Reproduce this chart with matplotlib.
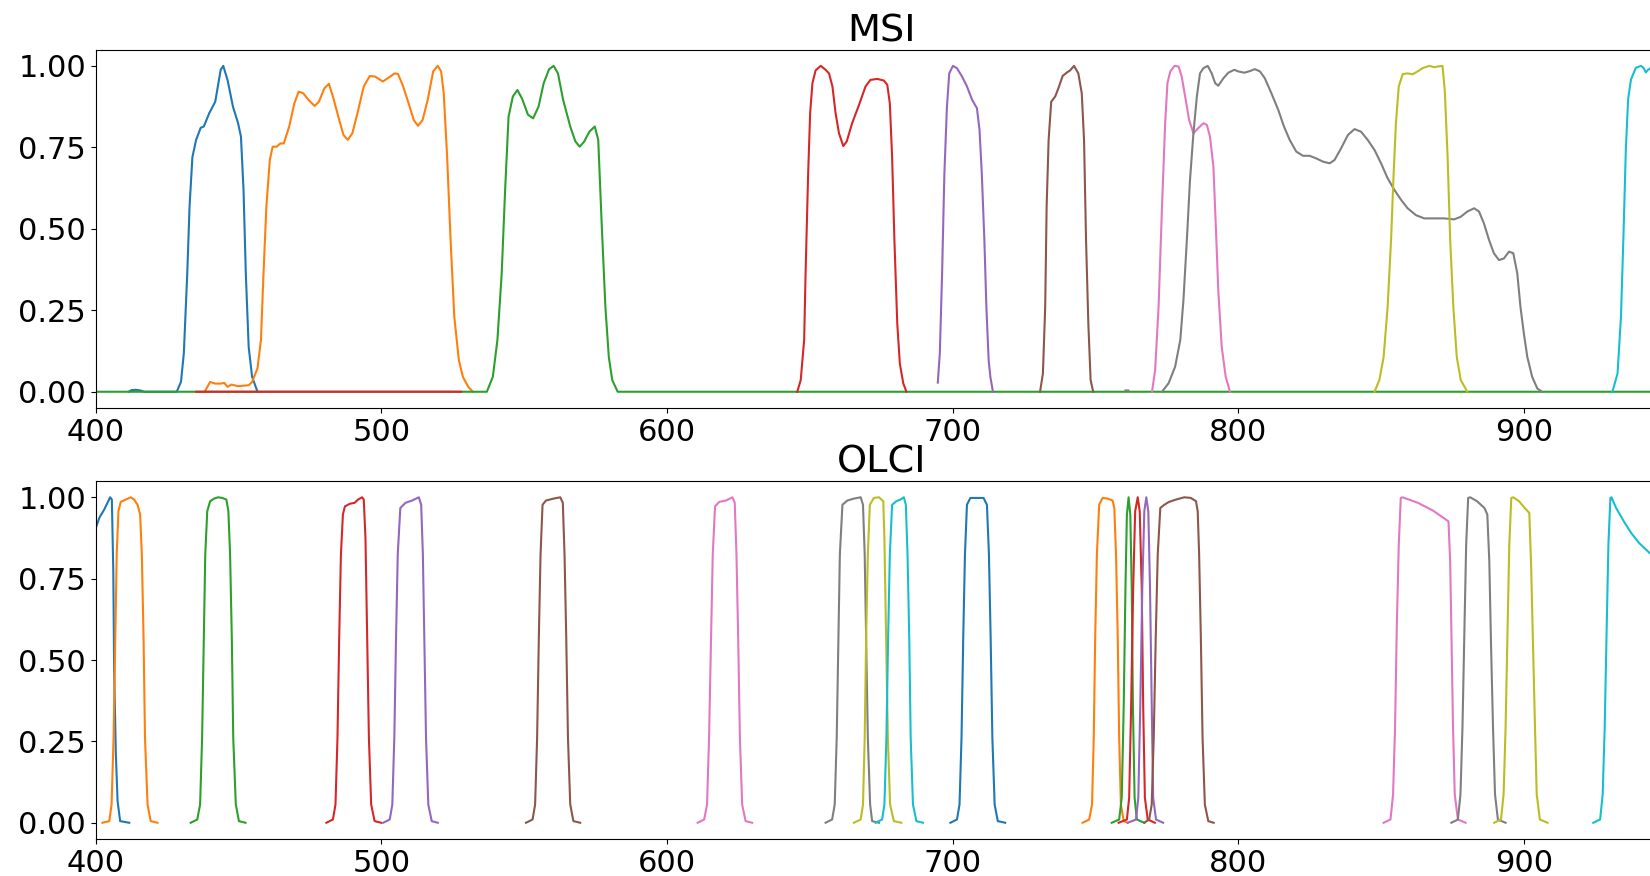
import numpy as np
import matplotlib
matplotlib.use('Agg')
import matplotlib.pyplot as plt

# Spectral response curves: (wavelength nm, relative response)
# MSI (Sentinel-2) bands, in plotting order
msi_b1 = [(411.5, 0.0), (412.5, 0.005), (414, 0.006), (415.5, 0.004), (417, 0.0), (428.3, 0.0),
          (429.8, 0.03), (430.8, 0.118), (432.0, 0.363), (432.8, 0.568), (433.8, 0.72), (435.1, 0.773),
          (436.7, 0.81), (437.8, 0.814), (439.7, 0.855), (441.8, 0.89), (443.7, 0.988), (444.6, 1.0),
          (446.1, 0.957), (448.0, 0.875), (449.8, 0.824), (450.8, 0.783), (451.7, 0.62), (452.5, 0.363),
          (453.5, 0.138), (454.7, 0.046), (456.6, 0.0)]
msi_b2 = [(438.1, 0.0), (440.0, 0.03), (441.8, 0.025), (443.7, 0.025), (445.0, 0.027), (446.1, 0.015),
          (447.5, 0.022), (449.8, 0.017), (453.5, 0.02), (454.7, 0.03), (456.6, 0.072), (457.8, 0.159),
          (458.7, 0.363), (459.7, 0.568), (460.9, 0.711), (461.9, 0.752), (463.3, 0.752), (464.6, 0.762),
          (465.8, 0.762), (467.7, 0.814), (469.5, 0.885), (471.0, 0.921), (472.6, 0.916), (474.4, 0.896),
          (476.6, 0.877), (478.1, 0.89), (480.0, 0.931), (481.6, 0.945), (483.0, 0.906), (484.9, 0.844),
          (486.7, 0.788), (488.2, 0.773), (489.8, 0.793), (491.6, 0.855), (493.8, 0.937), (495.9, 0.969),
          (497.8, 0.967), (500.5, 0.952), (502.7, 0.965), (504.6, 0.977), (505.8, 0.975), (507.6, 0.937),
          (509.5, 0.885), (511.3, 0.834), (512.8, 0.816), (514.4, 0.834), (516.2, 0.896), (518.1, 0.983),
          (519.7, 1.0), (520.9, 0.983), (521.8, 0.916), (523.0, 0.72), (524.2, 0.466), (525.5, 0.23),
          (527.1, 0.097), (528.5, 0.046), (530.4, 0.015), (532.0, 0.0)]
msi_b3 = [(390, 0.0), (536.9, 0.0), (539.0, 0.046), (540.6, 0.159), (542.1, 0.363), (543.3, 0.62),
          (544.5, 0.844), (546.0, 0.906), (547.6, 0.926), (549.2, 0.9), (551.3, 0.85), (553.1, 0.839),
          (555.0, 0.875), (556.8, 0.947), (558.7, 0.99), (560.3, 1.0), (561.8, 0.977), (563.6, 0.896),
          (566.1, 0.814), (567.9, 0.768), (569.4, 0.752), (571.0, 0.768), (572.8, 0.798), (574.7, 0.814),
          (575.9, 0.773), (577.1, 0.517), (578.4, 0.261), (579.6, 0.107), (580.8, 0.036), (582.7, 0.0),
          (1000, 0.0)]
msi_b4 = [(435.1, 0.0), (527.9, 0.0), (np.nan, np.nan),
          (645.6, 0.0), (646.8, 0.036), (648.0, 0.159), (648.5, 0.363), (649.4, 0.67), (650.1, 0.855),
          (650.9, 0.947), (652.0, 0.986), (653.8, 1.0), (655.5, 0.988), (656.7, 0.977), (657.9, 0.937),
          (659.0, 0.855), (660.2, 0.793), (661.7, 0.754), (662.9, 0.768), (664.8, 0.824), (667.2, 0.88),
          (669.5, 0.937), (671.2, 0.957), (673.6, 0.96), (675.9, 0.955), (677.1, 0.942), (678.0, 0.885),
          (678.8, 0.72), (679.6, 0.466), (680.6, 0.21), (681.5, 0.087), (682.7, 0.026), (683.8, 0.0)]
msi_b5 = [(694.8, 0.028), (695.5, 0.118), (696.3, 0.363), (697.1, 0.67), (698.0, 0.875), (698.8, 0.977),
          (700.1, 1.0), (701.5, 0.993), (703.3, 0.967), (705.0, 0.937), (706.8, 0.896), (708.5, 0.87),
          (709.4, 0.804), (710.2, 0.67), (711.1, 0.466), (711.8, 0.261), (712.6, 0.097), (713.2, 0.046),
          (714.1, 0.0)]
msi_b6 = [(730.6, 0.0), (731.6, 0.056), (732.4, 0.261), (732.9, 0.568), (733.6, 0.773), (734.5, 0.89),
          (735.9, 0.906), (737.0, 0.931), (738.5, 0.969), (739.9, 0.979), (741.1, 0.986), (742.5, 1.0),
          (744.0, 0.977), (745.2, 0.916), (746.0, 0.773), (746.7, 0.466), (747.5, 0.21), (748.3, 0.036),
          (749.2, 0.0)]
msi_b7 = [(769.8, 0.0), (770.9, 0.067), (772.1, 0.261), (773.3, 0.568), (774.4, 0.824), (775.2, 0.947),
          (776.2, 0.983), (777.7, 1.0), (779.1, 0.998), (780.2, 0.967), (781.4, 0.906), (782.8, 0.834),
          (784.3, 0.793), (786.0, 0.809), (787.8, 0.824), (789.0, 0.819), (790.1, 0.783), (791.3, 0.691),
          (792.1, 0.517), (793.0, 0.312), (794.2, 0.138), (795.6, 0.046), (797.1, 0.0)]
msi_b8 = [(760.5, 0.004), (761.5, 0.004), (np.nan, np.nan),
          (773.3, 0.0), (775.6, 0.026), (777.9, 0.077), (779.7, 0.159), (780.8, 0.281), (782.0, 0.466),
          (783.1, 0.65), (784.3, 0.793), (785.5, 0.906), (786.6, 0.977), (787.8, 0.993), (789.3, 1.0),
          (790.7, 0.977), (791.9, 0.947), (793.0, 0.939), (794.8, 0.962), (796.5, 0.979), (798.6, 0.988),
          (800.0, 0.983), (802.1, 0.979), (804.1, 0.984), (805.8, 0.99), (807.6, 0.983), (809.3, 0.962),
          (811.6, 0.916), (814.0, 0.865), (816.0, 0.814), (818.0, 0.773), (820.3, 0.737), (822.7, 0.724),
          (825.0, 0.724), (827.3, 0.716), (829.7, 0.706), (832.0, 0.701), (833.7, 0.711), (836.0, 0.747),
          (838.4, 0.788), (840.7, 0.806), (843.0, 0.798), (845.3, 0.773), (847.7, 0.742), (850.0, 0.701),
          (852.3, 0.655), (854.7, 0.619), (857.0, 0.589), (859.3, 0.563), (862.2, 0.542), (865.1, 0.532),
          (868.6, 0.532), (872.1, 0.532), (875.6, 0.529), (877.9, 0.537), (880.2, 0.553), (882.6, 0.563),
          (884.3, 0.553), (886.0, 0.517), (887.8, 0.466), (889.5, 0.425), (891.3, 0.404), (893.0, 0.409),
          (894.8, 0.43), (896.3, 0.425), (897.7, 0.363), (898.8, 0.261), (900.0, 0.179), (901.2, 0.107),
          (902.9, 0.046), (904.7, 0.01), (906.4, 0.0)]
msi_b8a = [(847.7, 0.0), (849.4, 0.036), (850.9, 0.107), (852.3, 0.261), (853.5, 0.466), (854.4, 0.67),
           (855.2, 0.824), (856.2, 0.937), (857.6, 0.975), (859.3, 0.977), (861.0, 0.974), (862.8, 0.983),
           (864.5, 0.993), (866.9, 1.0), (868.6, 0.996), (869.8, 0.998), (871.5, 1.0), (872.3, 0.926),
           (873.3, 0.72), (874.2, 0.466), (875.3, 0.261), (876.5, 0.107), (877.9, 0.036), (880.2, 0.0)]
msi_b9 = [(931.0, 0.0), (932.8, 0.056), (934.0, 0.23), (934.9, 0.487), (935.7, 0.743), (936.5, 0.897),
          (937.5, 0.958), (939.2, 0.994), (941.0, 1.0), (941.9, 0.994), (942.7, 0.98), (943.5, 0.988),
          (944.5, 0.994), (948.0, 0.98), (953.0, 0.95), (956.0, 0.5), (958.0, 0.05), (960.0, 0.0)]

# OLCI (Sentinel-3) bands Oa1..Oa20
olci_oa1 = [(400.0, 0.906), (401.2, 0.937), (402.9, 0.962), (405.0, 1.0), (405.6, 0.993), (406.1, 0.773),
            (406.4, 0.466), (407.0, 0.21), (407.6, 0.067), (408.5, 0.005), (411.7, 0.0)]
olci_oa2 = [(402.3, 0.0), (404.7, 0.005), (405.5, 0.056), (406.2, 0.261), (406.8, 0.568), (407.3, 0.824),
            (407.9, 0.957), (408.7, 0.986), (410.5, 0.993), (412.2, 1.0), (413.4, 0.993), (414.6, 0.977),
            (415.5, 0.947), (416.1, 0.824), (416.7, 0.568), (417.2, 0.261), (418.1, 0.056), (419.2, 0.005),
            (421.6, 0.0)]
olci_oa3 = [(433.2, 0.0), (435.5, 0.01), (436.5, 0.056), (437.2, 0.261), (437.8, 0.568), (438.3, 0.824),
            (439.0, 0.957), (440.0, 0.988), (441.4, 0.996), (442.8, 1.0), (444.3, 0.998), (445.7, 0.993),
            (446.4, 0.957), (447.0, 0.824), (447.6, 0.568), (448.1, 0.261), (449.0, 0.056), (450.1, 0.005),
            (452.4, 0.0)]
olci_oa4 = [(480.7, 0.0), (483.0, 0.01), (483.9, 0.056), (484.6, 0.261), (485.2, 0.568), (485.8, 0.824),
            (486.5, 0.947), (487.2, 0.972), (488.9, 0.98), (490.6, 0.983), (491.8, 0.993), (493.2, 1.0),
            (493.8, 0.993), (494.4, 0.875), (495.0, 0.568), (495.6, 0.261), (496.4, 0.056), (497.6, 0.005),
            (499.9, 0.0)]
olci_oa5 = [(500.6, 0.0), (502.9, 0.01), (503.8, 0.056), (504.5, 0.261), (505.1, 0.568), (505.7, 0.824),
            (506.6, 0.967), (508.4, 0.983), (510.7, 0.99), (513.1, 1.0), (513.9, 0.977), (514.5, 0.824),
            (515.0, 0.568), (515.6, 0.261), (516.4, 0.056), (517.6, 0.005), (519.7, 0.0)]
olci_oa6 = [(550.6, 0.0), (552.9, 0.01), (553.8, 0.056), (554.5, 0.261), (555.1, 0.568), (555.7, 0.824),
            (556.4, 0.977), (557.6, 0.99), (560.3, 0.996), (562.6, 1.0), (563.5, 0.983), (564.1, 0.824),
            (564.7, 0.568), (565.3, 0.261), (566.1, 0.056), (567.2, 0.005), (569.6, 0.0)]
olci_oa7 = [(610.7, 0.0), (613.0, 0.01), (614.0, 0.056), (614.7, 0.261), (615.4, 0.568), (616.0, 0.824),
            (616.8, 0.972), (618.3, 0.986), (620.6, 0.99), (622.9, 1.0), (623.7, 0.983), (624.3, 0.824),
            (624.9, 0.568), (625.5, 0.261), (626.3, 0.056), (627.5, 0.005), (629.8, 0.0)]
olci_oa8 = [(655.5, 0.0), (657.8, 0.01), (658.7, 0.056), (659.4, 0.261), (660.0, 0.568), (660.5, 0.824),
            (661.4, 0.977), (663.1, 0.99), (665.4, 0.996), (667.8, 1.0), (668.6, 0.977), (669.2, 0.824),
            (669.7, 0.568), (670.3, 0.261), (671.1, 0.056), (671.8, 0.005), (674.2, 0.0)]
olci_oa9 = [(665.4, 0.0), (667.8, 0.01), (668.6, 0.056), (669.2, 0.261), (669.7, 0.568), (670.3, 0.824),
            (671.0, 0.977), (672.4, 0.998), (674.2, 1.0), (675.7, 0.988), (676.1, 0.875), (676.7, 0.568),
            (677.3, 0.261), (678.1, 0.056), (679.4, 0.005), (682.0, 0.0)]
olci_oa10 = [(673.0, 0.0), (675.3, 0.01), (676.1, 0.056), (676.8, 0.261), (677.4, 0.568), (678.0, 0.824),
             (678.8, 0.977), (680.3, 0.988), (681.7, 0.993), (682.9, 1.0), (683.6, 0.977), (684.2, 0.824),
             (684.8, 0.568), (685.3, 0.261), (686.1, 0.056), (687.3, 0.005), (689.6, 0.0)]
olci_oa11 = [(699.2, 0.0), (701.5, 0.01), (702.4, 0.056), (703.1, 0.261), (703.7, 0.568), (704.3, 0.824),
             (705.0, 0.977), (706.2, 0.998), (708.5, 0.998), (710.8, 0.998), (712.0, 0.977), (712.7, 0.824),
             (713.3, 0.568), (713.9, 0.261), (714.7, 0.056), (715.8, 0.005), (718.4, 0.0)]
olci_oa12 = [(745.5, 0.0), (747.8, 0.01), (748.8, 0.056), (749.4, 0.261), (749.9, 0.568), (750.5, 0.824),
             (751.3, 0.977), (752.5, 0.998), (754.3, 0.996), (756.0, 0.99), (756.6, 0.967), (757.2, 0.824),
             (757.8, 0.568), (758.3, 0.261), (758.9, 0.056), (759.9, 0.005), (761.3, 0.0)]
olci_oa13 = [(755.7, 0.0), (758.3, 0.01), (759.2, 0.077), (759.9, 0.363), (760.5, 0.721), (761.0, 0.946),
             (761.6, 1.0), (762.2, 0.946), (762.7, 0.721), (763.1, 0.363), (763.7, 0.077), (764.5, 0.01),
             (767.1, 0.0)]
olci_oa14 = [(758.1, 0.0), (761.0, 0.01), (761.8, 0.077), (762.5, 0.363), (763.2, 0.721), (763.9, 0.957),
             (764.8, 1.0), (765.5, 0.957), (766.2, 0.721), (766.7, 0.363), (767.3, 0.077), (768.3, 0.01),
             (770.8, 0.0)]
olci_oa15 = [(761.3, 0.0), (764.2, 0.01), (765.0, 0.077), (765.7, 0.363), (766.4, 0.721), (767.1, 0.957),
             (767.8, 1.0), (768.5, 0.957), (769.1, 0.721), (769.7, 0.363), (770.2, 0.077), (771.2, 0.01),
             (773.7, 0.0)]
olci_oa16 = [(767.1, 0.0), (768.8, 0.01), (769.7, 0.056), (770.4, 0.261), (771.1, 0.568), (771.8, 0.824),
             (772.7, 0.967), (774.1, 0.977), (775.8, 0.986), (778.2, 0.993), (781.1, 1.0), (783.4, 0.998),
             (785.2, 0.988), (785.8, 0.957), (786.3, 0.824), (786.9, 0.568), (787.5, 0.261), (788.3, 0.056),
             (789.5, 0.005), (791.4, 0.0)]
olci_oa17 = [(850.9, 0.0), (853.3, 0.01), (854.2, 0.087), (854.9, 0.292), (855.5, 0.599), (856.2, 0.855),
             (856.9, 0.998), (857.5, 1.0), (862.9, 0.983), (868.2, 0.959), (873.6, 0.926), (874.2, 0.803),
             (874.6, 0.599), (875.2, 0.292), (875.8, 0.087), (876.9, 0.01), (879.6, 0.0)]
olci_oa18 = [(874.6, 0.0), (876.9, 0.01), (877.8, 0.087), (878.5, 0.292), (879.2, 0.599), (879.8, 0.855),
             (880.5, 0.998), (881.2, 1.0), (883.6, 0.988), (886.2, 0.967), (887.2, 0.947), (887.9, 0.803),
             (888.5, 0.548), (889.2, 0.292), (889.9, 0.087), (890.9, 0.01), (893.6, 0.0)]
olci_oa19 = [(889.6, 0.0), (892.0, 0.01), (892.9, 0.087), (893.6, 0.292), (894.3, 0.599), (894.9, 0.855),
             (895.6, 0.998), (896.3, 1.0), (898.3, 0.988), (900.3, 0.967), (901.9, 0.952), (902.5, 0.803),
             (903.2, 0.548), (903.9, 0.292), (904.5, 0.087), (905.6, 0.01), (908.3, 0.0)]
olci_oa20 = [(924.3, 0.0), (926.7, 0.01), (927.6, 0.087), (928.3, 0.292), (929.0, 0.599), (929.6, 0.855),
             (930.3, 0.998), (930.7, 1.0), (932.3, 0.967), (935.0, 0.926), (937.6, 0.89), (940.3, 0.86),
             (944.0, 0.829), (948.0, 0.80), (952.0, 0.78)]

MSI_BANDS = [msi_b1, msi_b2, msi_b3, msi_b4, msi_b5, msi_b6, msi_b7, msi_b8, msi_b8a, msi_b9]
OLCI_BANDS = [olci_oa1, olci_oa2, olci_oa3, olci_oa4, olci_oa5, olci_oa6, olci_oa7, olci_oa8,
              olci_oa9, olci_oa10, olci_oa11, olci_oa12, olci_oa13, olci_oa14, olci_oa15, olci_oa16,
              olci_oa17, olci_oa18, olci_oa19, olci_oa20]

X_TICKS = [400, 500, 600, 700, 800, 900]
Y_TICKS = [0.0, 0.25, 0.5, 0.75, 1.0]


def plot_bands(ax, bands, title):
    for band in bands:
        wl, rsr = np.array(band, dtype=float).T
        ax.plot(wl, rsr, linewidth=1.5)
    ax.set_title(title, fontsize=27.5)
    ax.set_xlim(400, 950)
    ax.set_ylim(-0.05, 1.05)
    ax.set_xticks(X_TICKS)
    ax.set_yticks(Y_TICKS)
    ax.yaxis.set_major_formatter(matplotlib.ticker.FormatStrFormatter('%.2f'))
    ax.tick_params(labelsize=22)


fig = plt.figure(figsize=(16.5, 8.76), dpi=100)
# axes run past the right edge of the figure, as in the original crop
ax1 = fig.add_axes([0.0581, 0.5342, 0.952, 0.4092])
ax2 = fig.add_axes([0.0581, 0.0422, 0.952, 0.4087])

plot_bands(ax1, MSI_BANDS, 'MSI')
plot_bands(ax2, OLCI_BANDS, 'OLCI')

fig.savefig('out.png', dpi=100)
